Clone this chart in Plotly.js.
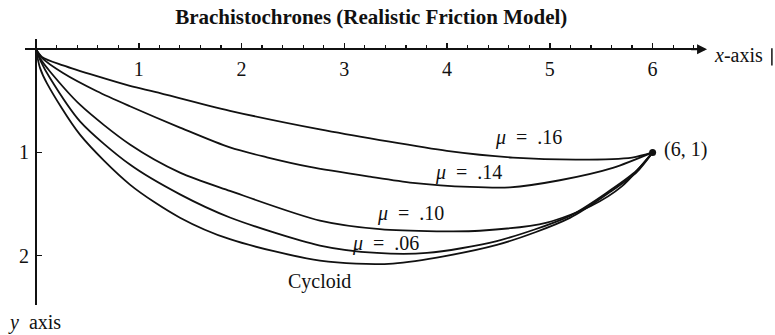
<!DOCTYPE html>
<html>
<head>
<meta charset="utf-8">
<script src="https://cdn.plot.ly/plotly-3.0.1.min.js"></script>
<style>
  html, body { margin: 0; padding: 0; background: #ffffff; }
  #chart { width: 775px; height: 335px; }
</style>
</head>
<body>
<div id="chart"></div>
<script>
// Brachistochrone paths from (0,0) to (6,1), y measured downward
const xMu16 = [0, 0.058, 0.263, 0.914, 1.158, 1.887, 2.763, 3.346, 3.998, 4.64, 5.29, 5.8, 6];
const yMu16 = [0, 0.074, 0.156, 0.355, 0.413, 0.596, 0.777, 0.88, 0.985, 1.05, 1.07, 1.05, 1];

const xMu14 = [0, 0.058, 0.263, 0.593, 0.914, 1.401, 1.887, 2.247, 2.665, 3.249, 3.667, 4.222, 4.611, 5.097, 5.613, 6];
const yMu14 = [0, 0.083, 0.23, 0.407, 0.552, 0.759, 0.952, 1.047, 1.14, 1.235, 1.295, 1.335, 1.339, 1.27, 1.15, 1];

const xMu10 = [0, 0.049, 0.136, 0.428, 0.914, 1.401, 1.887, 2.763, 3.346, 3.9, 4.319, 4.971, 5.4, 5.7, 6];
const yMu10 = [0, 0.102, 0.215, 0.537, 0.923, 1.196, 1.373, 1.661, 1.745, 1.765, 1.76, 1.68, 1.52, 1.33, 1];

const xMu06 = [0, 0.049, 0.136, 0.428, 0.914, 1.401, 1.887, 2.763, 3.317, 3.804, 4.484, 5.195, 5.584, 5.846, 6];
const yMu06 = [0, 0.121, 0.279, 0.699, 1.118, 1.407, 1.631, 1.903, 1.975, 1.975, 1.86, 1.615, 1.37, 1.175, 1];

const xCycloid = [0, 0.039, 0.107, 0.428, 0.914, 1.401, 1.887, 2.763, 3.473, 4.484, 5.195, 5.584, 5.846, 6];
const yCycloid = [0, 0.18, 0.33, 0.828, 1.312, 1.633, 1.842, 2.049, 2.078, 1.897, 1.635, 1.385, 1.19, 1];

const endPoint = { x: [6], y: [1], label: '(6, 1)' };

const curveLabels = ['<i>μ</i>\u2002=\u2002.16', '<i>μ</i>\u2002=\u2002.14', '<i>μ</i>\u2002=\u2002.10', '<i>μ</i>\u2002=\u2002.06', 'Cycloid'];

const xTickVals = [1, 2, 3, 4, 5, 6];
const xTickText = ['1', '2', '3', '4', '5', '6'];
const yTickVals = [1, 2];
const yTickText = ['1', '2'];

const serif = '"Liberation Serif", "Times New Roman", serif';
const ink = '#111111';

function path(x, y) {
  return {
    x: x, y: y, type: 'scatter', mode: 'lines',
    line: { color: ink, width: 1.8, shape: 'spline', smoothing: 0.8 },
    hoverinfo: 'skip', showlegend: false
  };
}

const traces = [
  path(xMu16, yMu16),
  path(xMu14, yMu14),
  path(xMu10, yMu10),
  path(xMu06, yMu06),
  path(xCycloid, yCycloid),
  {
    x: endPoint.x, y: endPoint.y, type: 'scatter', mode: 'markers',
    marker: { color: ink, size: 7 }, hoverinfo: 'skip', showlegend: false
  }
];

const xRange = [-0.107, 6.5];
const yRange = [2.48, -0.1];

function ann(text, x, y, extra) {
  return Object.assign({
    text: text, x: x, y: y, xref: 'x', yref: 'y',
    showarrow: false, font: { family: serif, size: 20, color: ink },
    xanchor: 'center', yanchor: 'middle'
  }, extra || {});
}

const onPaper = { xref: 'paper', yref: 'paper' };

const layout = {
  width: 775, height: 335,
  margin: { l: 25, r: 71, t: 39, b: 30 },
  paper_bgcolor: '#ffffff', plot_bgcolor: '#ffffff',
  title: {
    text: '<b>Brachistochrones (Realistic Friction Model)</b>',
    font: { family: serif, size: 21, color: ink },
    x: 0.479, xanchor: 'center', y: 0.95, yanchor: 'middle', yref: 'container'
  },
  xaxis: {
    range: xRange, anchor: 'free',
    position: (yRange[0]) / (yRange[0] - yRange[1]),
    showline: true, linecolor: ink, linewidth: 2,
    showgrid: false, zeroline: false,
    tickmode: 'array', tickvals: xTickVals, ticktext: xTickText,
    ticks: 'inside', ticklen: 5, tickwidth: 1.5, tickcolor: ink,
    minor: { dtick: 0.2, tick0: 0, ticks: 'inside', ticklen: 3, tickwidth: 1.2, tickcolor: ink },
    tickfont: { family: serif, size: 20, color: ink },
    ticklabelstandoff: 2
  },
  yaxis: {
    range: yRange, anchor: 'free',
    position: (0 - xRange[0]) / (xRange[1] - xRange[0]),
    showline: true, linecolor: ink, linewidth: 2,
    showgrid: false, zeroline: false,
    tickmode: 'array', tickvals: yTickVals, ticktext: yTickText,
    ticks: 'inside', ticklen: 5, tickwidth: 1.5, tickcolor: ink,
    tickfont: { family: serif, size: 20, color: ink },
    ticklabelstandoff: 2
  },
  shapes: [
    // short rule at the right edge, beside the x-axis caption
    { type: 'line', xref: 'paper', yref: 'paper', x0: 1.1, x1: 1.1, y0: 0.9, y1: 0.965,
      line: { color: ink, width: 1.5 } }
  ],
  annotations: [
    ann(curveLabels[0], 4.796, 0.86),
    ann(curveLabels[1], 4.212, 1.19),
    ann(curveLabels[2], 3.648, 1.59),
    ann(curveLabels[3], 3.405, 1.88),
    ann(curveLabels[4], 2.763, 2.255),
    ann(endPoint.label, 6.09, 0.975, { xanchor: 'left' }),
    ann('<i>x</i>-axis', 1.0118, 0.94, Object.assign({ xanchor: 'left' }, onPaper)),
    ann('<i>y</i>\u2002axis', 0.0133, -0.064, onPaper),
    {
      x: 6.53, y: 0, ax: 6.36, ay: 0, xref: 'x', yref: 'y', axref: 'x', ayref: 'y',
      showarrow: true, arrowhead: 2, arrowsize: 1, arrowwidth: 2, arrowcolor: ink, text: ''
    }
  ]
};

Plotly.newPlot('chart', traces, layout, { displayModeBar: false, staticPlot: true });
</script>
</body>
</html>
